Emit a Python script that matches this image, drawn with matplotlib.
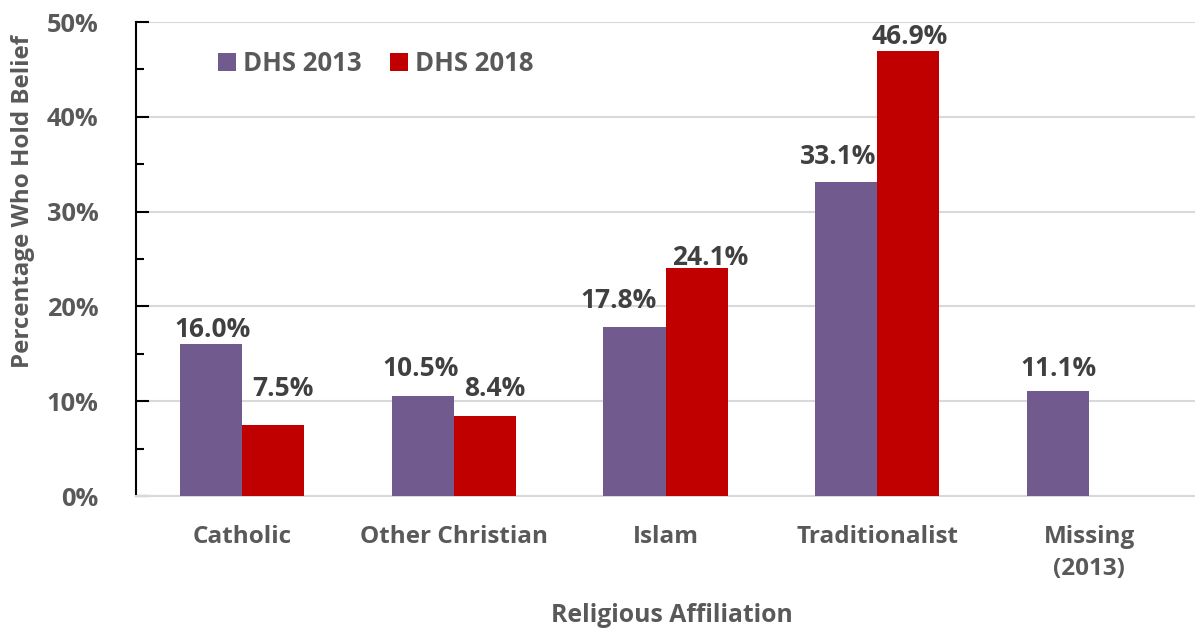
import numpy as np
import matplotlib.pyplot as plt

# Data
categories = ['Catholic', 'Other Christian', 'Islam', 'Traditionalist', 'Missing\n(2013)']
dhs_2013 = [16.0, 10.5, 17.8, 33.1, 11.1]
dhs_2018 = [7.5, 8.4, 24.1, 46.9, np.nan]

purple = '#715A8E'
red = '#C00000'
grey = '#595959'
dark = '#404040'

plt.rcParams['font.family'] = ['Open Sans', 'DejaVu Sans']
plt.rcParams['font.weight'] = 'bold'

fig = plt.figure(figsize=(11.95, 6.29), dpi=100)
ax = fig.add_axes([136 / 1195, 1 - 496 / 629, 1 - 136 / 1195, (496 - 22) / 629])

x = np.arange(len(categories))
w = 0.293
b1 = ax.bar(x - w / 2, dhs_2013, w, color=purple, label='DHS 2013', zorder=3)
b2 = ax.bar(x + w / 2, dhs_2018, w, color=red, label='DHS 2018', zorder=3)

# label offsets (dx, dy in points) to mimic hand-placed labels
off_2013 = [(1.5, 10.5), (-1.5, 20), (-11.5, 19.5), (-6, 18.5), (0, 16)]
off_2018 = [(7.5, 26.5), (7, 20), (9.5, 7), (1, 10.5), (0, 0)]
for bars, vals, offs in [(b1, dhs_2013, off_2013), (b2, dhs_2018, off_2018)]:
    for bar, v, (dx, dy) in zip(bars, vals, offs):
        if np.isnan(v):
            continue
        ax.annotate(f'{v:.1f}%', (bar.get_x() + bar.get_width() / 2, v),
                    xytext=(dx, dy), textcoords='offset points',
                    ha='center', va='center', fontsize=19,
                    fontweight='bold', color=dark)

ax.set_xlim(-0.5, len(categories) - 0.5)
ax.set_ylim(0, 50)
ax.set_yticks(np.arange(0, 51, 10))
ax.set_yticks(np.arange(5, 50, 10), minor=True)
ax.set_yticklabels([f'{t}%' for t in range(0, 51, 10)], fontsize=18.3, color=grey)
ax.tick_params(axis='y', which='major', direction='in', length=9, width=1.5, pad=27)
ax.tick_params(axis='y', which='minor', direction='in', length=6, width=1.5)
ax.set_xticks(x)
ax.set_xticklabels(categories, fontsize=17.5, color=grey, linespacing=1.45)
ax.tick_params(axis='x', length=0, pad=21)

ax.grid(axis='y', color='#D9D9D9', linewidth=1.5, zorder=0)
for s in ['top', 'right']:
    ax.spines[s].set_visible(False)
ax.spines['bottom'].set_color('#D9D9D9')
ax.spines['bottom'].set_linewidth(1.5)
ax.spines['left'].set_linewidth(1.5)

ax.legend(loc='center left', bbox_to_anchor=(0.0774, 0.912), ncol=2, frameon=False,
          fontsize=18.5, labelcolor=grey, handlelength=0.7, handleheight=0.7,
          handletextpad=0.27, columnspacing=1.1, borderpad=0, borderaxespad=0)

fig.text(672 / 1195, 1 - 616 / 629, 'Religious Affiliation', ha='center', va='center',
         fontsize=17.8, color=grey, fontweight='bold')
fig.text(23 / 1195, 1 - 201 / 629, 'Percentage Who Hold Belief', ha='center', va='center',
         rotation=90, fontsize=17.4, color=grey, fontweight='bold')

fig.savefig('out.png', dpi=100)
